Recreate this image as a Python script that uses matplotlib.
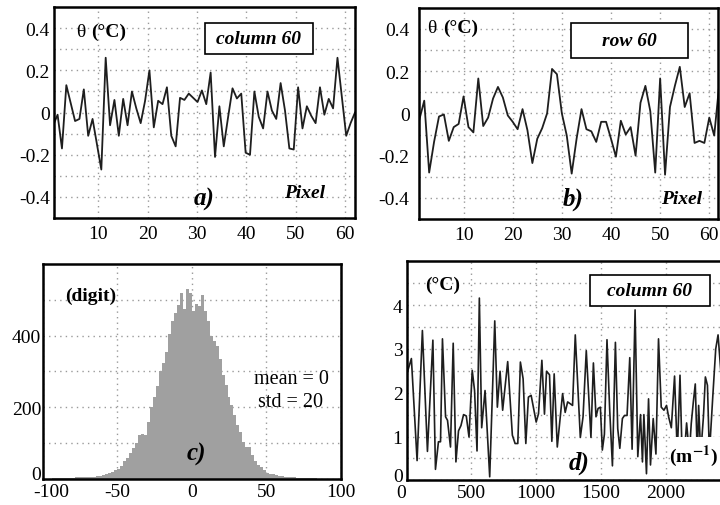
import numpy as np
import matplotlib
matplotlib.use("Agg")
import matplotlib.pyplot as plt
from matplotlib.patches import Rectangle
from matplotlib.transforms import ScaledTranslation

plt.rcParams["font.family"] = ["Liberation Serif", "DejaVu Serif"]
plt.rcParams["axes.unicode_minus"] = False
plt.rcParams["mathtext.fontset"] = "stix"

# a) column 60 profile (pixel samples)
col_pixel = np.linspace(0.84, 62, 70)
col_theta = [-0.06, -0.01, -0.17, 0.13, 0.045, -0.04, -0.03, 0.11, -0.11, -0.03,
             -0.15, -0.27, 0.26, -0.06, 0.06, -0.11, 0.065, -0.06, 0.10, 0.02,
             -0.05, 0.055, 0.20, -0.07, 0.056, 0.04, 0.12, -0.11, -0.16, 0.07,
             0.06, 0.09, 0.07, 0.05, 0.105, 0.04, 0.19, -0.21, 0.03, -0.16,
             -0.02, 0.115, 0.067, 0.09, -0.19, -0.20, 0.10, -0.02, -0.075, 0.10,
             0.01, -0.03, 0.14, 0.01, -0.17, -0.175, 0.12, -0.075, 0.03, -0.015,
             -0.05, 0.12, -0.01, 0.065, 0.02, 0.26, 0.075, -0.11, -0.05, 0.0]

# b) row 60 profile
row_pixel = np.arange(1, 63)
row_theta = [-0.03, 0.06, -0.28, -0.135, -0.015, -0.005, -0.13, -0.065, -0.05, 0.08,
             -0.065, -0.09, 0.165, -0.06, -0.02, 0.07, 0.125, 0.075, -0.01, -0.04,
             -0.075, 0.02, -0.08, -0.235, -0.12, -0.07, 0.0, 0.21, 0.185, 0.0,
             -0.105, -0.285, -0.12, 0.02, -0.075, -0.085, -0.135, -0.04, -0.04, -0.12,
             -0.205, -0.035, -0.10, -0.065, -0.20, 0.05, 0.13, 0.01, -0.28, 0.165,
             -0.29, 0.03, 0.13, 0.22, 0.03, 0.095, -0.14, -0.13, -0.14, -0.02,
             -0.105, 0.13]

# c) noise histogram (bin width 2 digits)
hist_edges = np.arange(-100, 100, 2)
hist_counts = [0, 0, 0, 1, 1, 1, 2, 2, 3, 3,
               3, 4, 4, 4, 5, 5, 6, 6, 8, 8,
               10, 13, 15, 19, 23, 28, 36, 50, 57, 72,
               85, 100, 122, 124, 123, 160, 200, 228, 258, 300,
               325, 355, 405, 440, 465, 485, 520, 475, 530, 520,
               470, 488, 482, 515, 470, 442, 400, 386, 372, 335,
               290, 262, 228, 205, 178, 150, 132, 104, 90, 88,
               66, 50, 38, 32, 24, 16, 14, 12, 11, 8,
               7, 6, 5, 5, 4, 3, 3, 2, 2, 1,
               1, 1, 0, 0, 0, 0, 0, 0, 0, 0]

# d) spectrum of column 60
freq = [5, 36, 80, 121, 160, 202, 222, 245, 261, 276,
        300, 315, 338, 359, 380, 400, 419, 439, 460, 481,
        506, 524, 543, 561, 579, 605, 641, 680, 700, 721,
        741, 780, 816, 837, 858, 878, 899, 920, 940, 961,
        1000, 1018, 1044, 1064, 1080, 1103, 1121, 1139, 1163, 1204,
        1224, 1243, 1281, 1302, 1341, 1362, 1387, 1423, 1442, 1462,
        1478, 1496, 1511, 1527, 1547, 1568, 1589, 1612, 1630, 1646,
        1666, 1682, 1702, 1723, 1741, 1764, 1785, 1806, 1821, 1832,
        1852, 1868, 1883, 1904, 1925, 1945, 1966, 1987, 2007, 2023,
        2044, 2069, 2090, 2111, 2128, 2147, 2162, 2183, 2198, 2214,
        2229, 2245, 2255, 2271, 2292, 2307, 2323, 2338, 2364, 2387,
        2405, 2426]
amp = [2.47, 2.78, 0.45, 3.42, 0.66, 3.20, 0.25, 0.88, 0.88, 3.23,
       1.45, 1.37, 0.76, 3.13, 0.42, 1.13, 1.25, 1.50, 1.47, 0.99,
       2.51, 2.05, 0.67, 4.16, 1.20, 2.05, 0.08, 3.64, 1.67, 2.49,
       1.60, 2.71, 1.03, 0.84, 0.84, 2.70, 2.32, 0.84, 1.90, 1.94,
       1.33, 1.52, 2.74, 1.51, 2.49, 2.41, 0.89, 2.43, 0.76, 1.98,
       1.55, 1.79, 1.71, 3.32, 0.98, 1.45, 2.96, 0.98, 2.68, 1.45,
       1.64, 1.67, 0.69, 1.05, 3.21, 1.60, 0.33, 3.15, 1.18, 0.73,
       1.41, 1.48, 1.48, 2.80, 0.71, 3.89, 0.54, 1.50, 0.42, 1.50,
       0.15, 1.86, 0.35, 1.41, 0.60, 3.23, 1.67, 1.60, 1.71, 1.45,
       1.20, 2.38, 0.60, 2.40, 0.50, 0.70, 1.31, 0.60, 1.30, 1.79,
       2.20, 0.50, 1.71, 0.60, 1.45, 2.36, 2.17, 0.60, 1.90, 3.00,
       3.32, 2.50]

GRID = dict(color="#9a9a9a", linestyle=(0, (1, 3)), linewidth=1.0)
LINE_C = "#1e1e1e"
TICK_FS = 14


def style_axes(ax):
    for s in ax.spines.values():
        s.set_linewidth(1.8)
    ax.tick_params(which="both", length=0, labelsize=TICK_FS)
    ax.tick_params(axis="x", pad=5)
    ax.tick_params(axis="y", pad=3)
    ax.grid(True, which="both", **GRID)
    ax.set_axisbelow(True)


def label_box(ax, x0, y0, x1, y1, text):
    ax.add_patch(Rectangle((x0, y0), x1 - x0, y1 - y0, transform=ax.transAxes,
                           facecolor="white", edgecolor="black", lw=1.2, zorder=5))
    ax.text((x0 + x1) / 2, (y0 + y1) / 2, text, transform=ax.transAxes,
            ha="center", va="center", fontsize=14, fontweight="bold",
            fontstyle="italic", zorder=6)


def nudge(lbl, fig, dx_px=0, dy_px=0):
    lbl.set_transform(lbl.get_transform()
                      + ScaledTranslation(dx_px / 100, dy_px / 100, fig.dpi_scale_trans))


fig = plt.figure(figsize=(7.2, 5.06), dpi=100)

# --- a) ---
ax_a = fig.add_axes([0.075, 0.567, 0.418, 0.417])
ax_a.plot(col_pixel, col_theta, color=LINE_C, lw=1.3)
ax_a.set_xlim(1, 62)
ax_a.set_ylim(-0.5, 0.5)
ax_a.set_xticks([10, 20, 30, 40, 50, 60])
ax_a.set_yticks([-0.4, -0.2, 0, 0.2, 0.4])
ax_a.set_yticklabels(["-0.4", "-0.2", "0", "0.2", "0.4"])
ax_a.set_yticks([-0.3, -0.1, 0.1, 0.3], minor=True)
style_axes(ax_a)
ax_a.text(0.073, 0.885, "θ", transform=ax_a.transAxes, fontsize=14,
          ha="left", va="center")
ax_a.text(0.125, 0.885, "(°C)", transform=ax_a.transAxes, fontsize=14,
          fontweight="bold", ha="left", va="center")
label_box(ax_a, 0.502, 0.777, 0.860, 0.924, "column 60")
ax_a.text(0.498, 0.095, "a)", transform=ax_a.transAxes, fontsize=18,
          fontweight="bold", fontstyle="italic", ha="center", va="center")
ax_a.text(0.834, 0.122, "Pixel", transform=ax_a.transAxes, fontsize=14,
          fontweight="bold", fontstyle="italic", ha="center", va="center")

# --- b) ---
ax_b = fig.add_axes([0.5824, 0.565, 0.415, 0.418])
ax_b.plot(row_pixel, row_theta, color=LINE_C, lw=1.3)
ax_b.set_xlim(1, 61.8)
ax_b.set_ylim(-0.5, 0.5)
ax_b.set_xticks([10, 20, 30, 40, 50, 60])
ax_b.set_yticks([-0.4, -0.2, 0, 0.2, 0.4])
ax_b.set_yticklabels(["-0.4", "-0.2", "0", "0.2", "0.4"])
ax_b.set_yticks([-0.3, -0.1, 0.1, 0.3], minor=True)
style_axes(ax_b)
ax_b.tick_params(axis="y", pad=7)
ax_b.text(0.026, 0.905, "θ", transform=ax_b.transAxes, fontsize=14,
          ha="left", va="center")
ax_b.text(0.078, 0.905, "(°C)", transform=ax_b.transAxes, fontsize=14,
          fontweight="bold", ha="left", va="center")
label_box(ax_b, 0.508, 0.764, 0.898, 0.929, "row 60")
ax_b.text(0.515, 0.097, "b)", transform=ax_b.transAxes, fontsize=18,
          fontweight="bold", fontstyle="italic", ha="center", va="center")
ax_b.text(0.878, 0.099, "Pixel", transform=ax_b.transAxes, fontsize=14,
          fontweight="bold", fontstyle="italic", ha="center", va="center")

# --- c) ---
ax_c = fig.add_axes([0.0593, 0.052, 0.414, 0.4237])
ax_c.bar(hist_edges, hist_counts, width=2, align="edge", color="#a0a0a0",
         edgecolor="none", zorder=2)
ax_c.set_xlim(-100, 100)
ax_c.set_ylim(0, 600)
ax_c.set_xticks([-100, -50, 0, 50, 100])
ax_c.set_yticks([0, 200, 400])
ax_c.set_yticks([100, 300, 500], minor=True)
style_axes(ax_c)
ax_c.tick_params(axis="y", pad=1)
ax_c.tick_params(axis="x", pad=3)
nudge(ax_c.get_xticklabels()[0], fig, dx_px=9)
nudge(ax_c.get_yticklabels()[0], fig, dy_px=6)
ax_c.text(0.075, 0.855, "(digit)", transform=ax_c.transAxes, fontsize=14,
          fontweight="bold", ha="left", va="center")
ax_c.text(0.833, 0.466, "mean = 0", transform=ax_c.transAxes, fontsize=14.5,
          ha="center", va="center")
ax_c.text(0.830, 0.358, "std = 20", transform=ax_c.transAxes, fontsize=14.5,
          ha="center", va="center")
ax_c.text(0.514, 0.117, "c)", transform=ax_c.transAxes, fontsize=18,
          fontweight="bold", fontstyle="italic", ha="center", va="center")

# --- d) ---
ax_d = fig.add_axes([0.5649, 0.0488, 0.4351, 0.4328])
ax_d.plot(freq, amp, color=LINE_C, lw=1.2)
ax_d.set_xlim(0, 2420)
ax_d.set_ylim(0, 5)
ax_d.set_xticks([0, 500, 1000, 1500, 2000])
ax_d.set_yticks([0, 1, 2, 3, 4])
ax_d.set_yticks([0.5, 1.5, 2.5, 3.5, 4.5], minor=True)
style_axes(ax_d)
ax_d.spines["right"].set_visible(False)
ax_d.tick_params(axis="x", pad=3)
nudge(ax_d.get_xticklabels()[0], fig, dx_px=-6)
nudge(ax_d.get_yticklabels()[0], fig, dy_px=6)
ax_d.text(0.058, 0.895, "(°C)", transform=ax_d.transAxes, fontsize=14,
          fontweight="bold", ha="left", va="center")
label_box(ax_d, 0.585, 0.796, 0.968, 0.936, "column 60")
ax_d.add_patch(Rectangle((0.84, 0.008), 0.16, 0.192, transform=ax_d.transAxes,
                         facecolor="white", edgecolor="none", zorder=4))
ax_d.text(0.914, 0.116, "(m$^{\\mathbf{-1}}$)", transform=ax_d.transAxes,
          fontsize=14, fontweight="bold", ha="center", va="center", zorder=6)
ax_d.text(0.55, 0.084, "d)", transform=ax_d.transAxes, fontsize=18,
          fontweight="bold", fontstyle="italic", ha="center", va="center")

fig.savefig("out.png", dpi=100)
